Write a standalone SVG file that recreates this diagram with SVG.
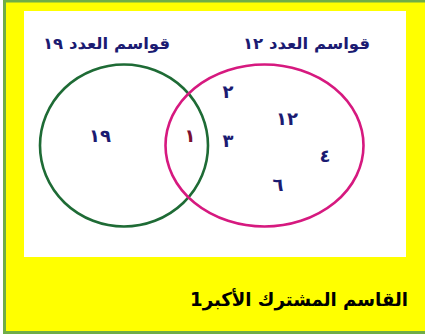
<svg xmlns="http://www.w3.org/2000/svg" width="425" height="335" viewBox="0 0 425 335">
<style>
.lbl{font-family:"DejaVu Sans",sans-serif;font-weight:bold;fill:#1b1b72;text-anchor:middle;font-size:16px}
.num{font-family:"DejaVu Sans",sans-serif;font-weight:bold;fill:#1b1b72;text-anchor:middle;font-size:18px}
</style>
<rect x="0" y="0" width="425" height="335" fill="#ffffff"/>
<rect x="4.5" y="1" width="440" height="331.5" fill="#ffff00" stroke="#70ad47" stroke-width="3"/>
<rect x="24" y="11" width="382" height="246" fill="#ffffff"/>
<g id="set19">
<ellipse cx="124" cy="145.5" rx="84" ry="81" fill="none" stroke="#1e6b35" stroke-width="2.6"/>
<text class="lbl" x="106.5" y="49" textLength="127" lengthAdjust="spacingAndGlyphs">قواسم العدد ١٩</text>
<text class="num" x="100" y="142" letter-spacing="3">١٩</text>
</g>
<g id="set12">
<ellipse cx="264.5" cy="145.5" rx="99" ry="81" fill="none" stroke="#d6197f" stroke-width="2.6"/>
<text class="lbl" x="306.5" y="49" textLength="127" lengthAdjust="spacingAndGlyphs">قواسم العدد ١٢</text>
<text class="num" x="228" y="98">٢</text>
<text class="num" x="287" y="125" letter-spacing="3">١٢</text>
<text class="num" x="228" y="147">٣</text>
<text class="num" x="325" y="162">٤</text>
<text class="num" x="278" y="191">٦</text>
</g>
<g id="common">
<text class="num" x="190" y="142" style="fill:#7a1030">١</text>
</g>
<g id="connectors"></g>
<text x="299" y="306" font-family="DejaVu Sans, sans-serif" font-weight="bold" font-size="19" fill="#000000" text-anchor="middle" textLength="218" lengthAdjust="spacingAndGlyphs">القاسم المشترك الأكبر1</text>
</svg>
